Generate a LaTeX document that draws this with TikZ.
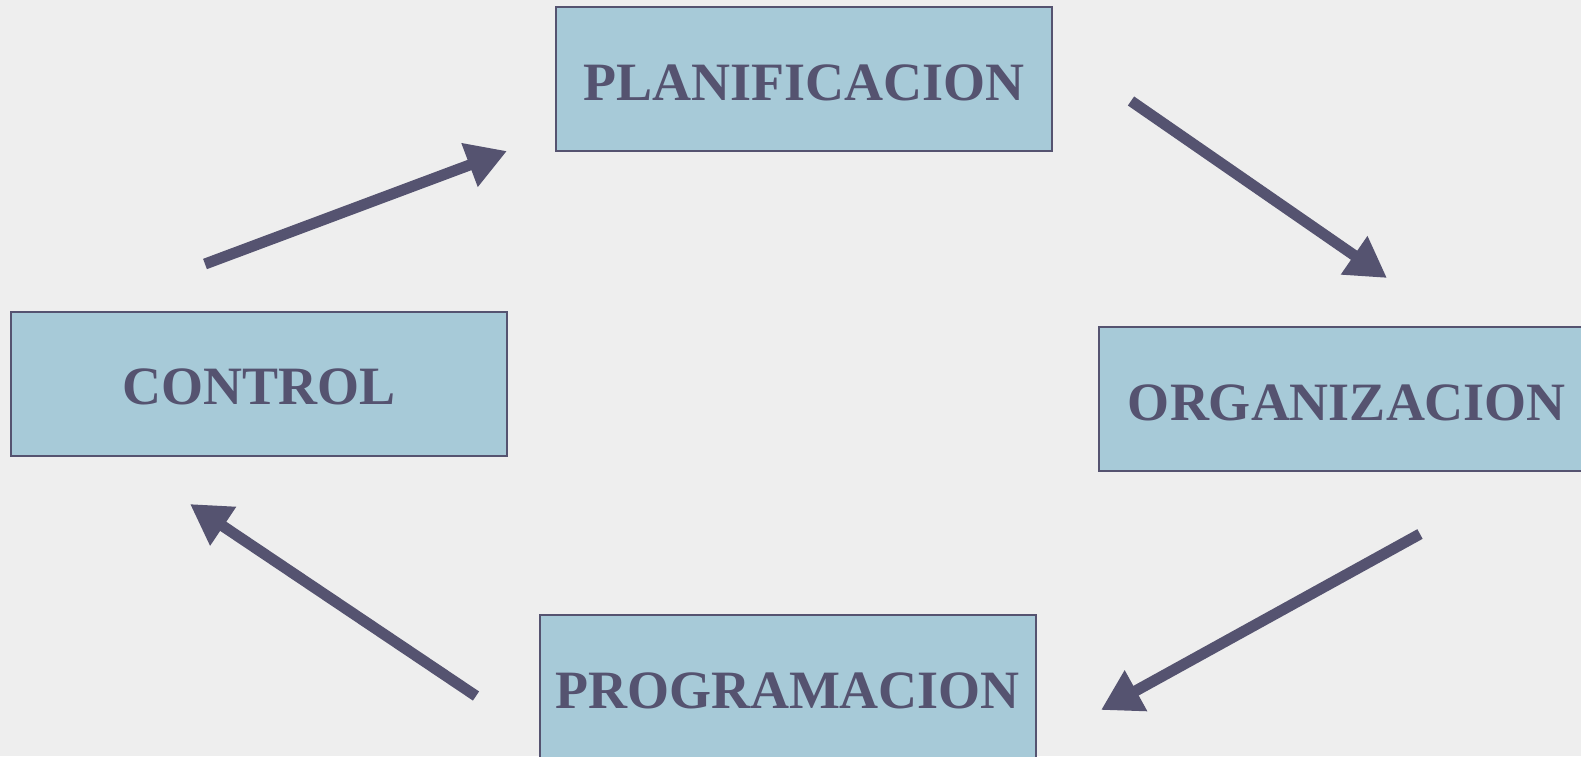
\documentclass[tikz,border=0pt]{standalone}
\usepackage{fontspec}
\setmainfont{Liberation Serif}
\usetikzlibrary{arrows.meta}
\definecolor{boxfill}{HTML}{A7CAD8}
\definecolor{ink}{HTML}{555370}
\definecolor{paper}{HTML}{EEEEEE}
\tikzset{
	etapa/.style={draw=ink, line width=1pt, fill=boxfill, text=ink, font=\fontsize{27}{30}\selectfont\bfseries, minimum width=248pt, minimum height=72pt, inner sep=0pt, text height=21pt, text depth=0pt},
	flecha/.style={draw=ink, line width=5.5pt, -{Triangle[length=20pt,width=22pt]}}
}
\begin{document}
\begin{tikzpicture}[x=0.5pt, y=-0.5pt]
	% fondo
	\useasboundingbox (0,0) rectangle (1581,756);
	\clip (0,0) rectangle (1581,756);
	\fill[paper] (0,0) rectangle (1581,756);
	
	% etapas
	\node[etapa] (Planificacion) at (804,79) {PLANIFICACION};
	\node[etapa] (Organizacion) at (1347,399) {ORGANIZACION};
	\node[etapa] (Programacion) at (787.5,687) {PROGRAMACION};
	\node[etapa] (Control) at (259,383.5) {CONTROL};
	
	% puntas de las flechas
	\coordinate (C1a) at (205,264);
	\coordinate (C1b) at (507,151);
	\coordinate (C2a) at (1131,101);
	\coordinate (C2b) at (1387,278);
	\coordinate (C3a) at (1420,534);
	\coordinate (C3b) at (1101,710);
	\coordinate (C4a) at (476,696);
	\coordinate (C4b) at (190,504);
	\draw[flecha] (C1a) -- (C1b);
	\draw[flecha] (C2a) -- (C2b);
	\draw[flecha] (C3a) -- (C3b);
	\draw[flecha] (C4a) -- (C4b);
	
\end{tikzpicture}
\end{document}
